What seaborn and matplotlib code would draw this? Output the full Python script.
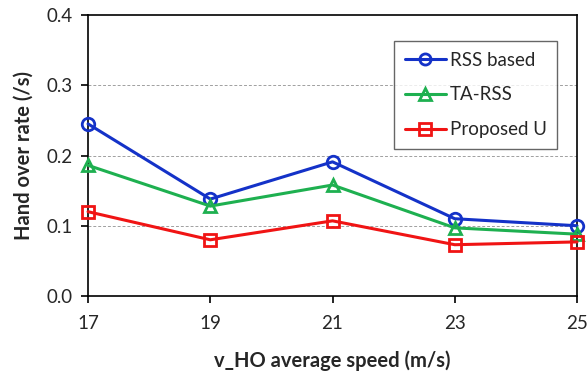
import matplotlib
matplotlib.use("Agg")
import matplotlib.pyplot as plt
import seaborn as sns
import pandas as pd

speeds = [17, 19, 21, 23, 25]
rss_based = [0.245, 0.138, 0.191, 0.110, 0.100]
ta_rss = [0.186, 0.128, 0.158, 0.097, 0.088]
proposed_u = [0.120, 0.080, 0.107, 0.073, 0.077]
series_names = ["RSS based", "TA-RSS", "Proposed U"]
y_ticks = [0.0, 0.1, 0.2, 0.3, 0.4]

df = pd.DataFrame({
    "speed": speeds * 3,
    "rate": rss_based + ta_rss + proposed_u,
    "series": [series_names[0]] * 5 + [series_names[1]] * 5 + [series_names[2]] * 5,
})

sns.set_style("white")
plt.rcParams["font.family"] = ["Lato", "DejaVu Sans"]

fig = plt.figure(figsize=(5.87, 3.76), dpi=100)
ax = fig.add_axes([0.15, 0.2128, 0.833, 0.7472])

palette = {"RSS based": "#1432C8", "TA-RSS": "#1EB050", "Proposed U": "#F01414"}
markers = {"RSS based": "o", "TA-RSS": "^", "Proposed U": "s"}
sns.lineplot(data=df, x="speed", y="rate", hue="series", style="series",
             palette=palette, markers=markers, dashes=False, ax=ax,
             linewidth=2.2, markersize=9)

for ln in ax.lines:
    c = ln.get_color()
    ln.set_markeredgecolor(c)
    ln.set_markerfacecolor("none")
    ln.set_markeredgewidth(2.0)
    ln.set_clip_on(False)
    ln.set_zorder(3)

ax.set_xlim(17, 25)
ax.set_ylim(0, 0.4)
ax.set_xticks(speeds)
ax.set_yticks(y_ticks)
ax.set_yticklabels([f"{v:.1f}" for v in y_ticks])
for v in y_ticks[1:-1]:
    ax.axhline(v, color="#a0a0a0", linestyle=(0, (3, 2)), linewidth=0.7, zorder=0)

for s in ax.spines.values():
    s.set_color("black")
    s.set_linewidth(1.2)
ax.tick_params(axis="both", direction="out", length=5, width=1.2, color="black",
               labelsize=13.5, pad=6, bottom=True, left=True)
ax.tick_params(axis="x", pad=9)

ax.set_xlabel("v_HO average speed (m/s)", fontsize=14.5, fontweight="bold", labelpad=13)
ax.set_ylabel("Hand over rate (/s)", fontsize=14.5, fontweight="bold", labelpad=9)

leg = ax.legend(loc="upper right", bbox_to_anchor=(0.978, 0.94), fontsize=13.5,
                frameon=True, fancybox=False, edgecolor="#404040",
                handlelength=2.2, borderpad=0.55, labelspacing=0.95,
                handletextpad=0.2)
leg.get_frame().set_linewidth(1.0)
for h in leg.legend_handles:
    c = h.get_color()
    h.set_markeredgecolor(c)
    h.set_markerfacecolor("none")
    h.set_markeredgewidth(2.0)
    h.set_linewidth(2.2)
    h.set_markersize(8)

fig.savefig("out.png", dpi=100)
